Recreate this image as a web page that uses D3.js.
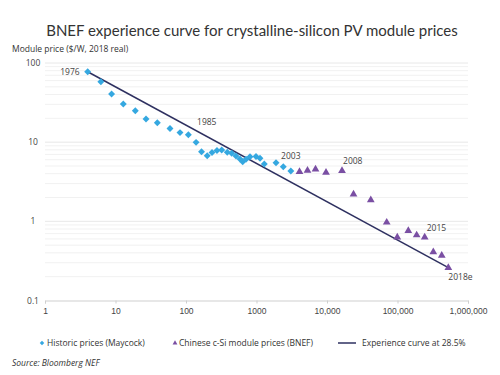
<!DOCTYPE html>
<html>
<head>
<meta charset="utf-8">
<script src="https://cdn.jsdelivr.net/npm/d3@7"></script>
<style>
  body { margin: 0; background: #fff; }
  svg { display: block; font-family: "Open Sans", sans-serif; }
</style>
</head>
<body>
<script>
// cumulative capacity (MW) and price ($/W, 2018 real)
const historicX = [4.03, 6.2, 8.8, 12.9, 19.1, 27.1, 39.2, 59.3, 82.2, 108, 139, 166, 200, 234, 275, 321, 385, 445, 512, 583, 637, 710, 809, 984, 1121, 1290, 1892, 2399, 3069];
const historicY = [77.6, 58, 40.5, 30.3, 24.9, 19.6, 17.6, 14.9, 13.2, 12.4, 9.95, 7.57, 6.72, 7.4, 7.84, 7.96, 7.44, 7.23, 6.68, 6.12, 5.66, 6.07, 6.54, 6.58, 6.25, 5.3, 5.5, 4.89, 4.32];

const chinaX = [4074, 5290, 6870, 9680, 16330, 23770, 41800, 70300, 99300, 142300, 187000, 243000, 322000, 424000, 526000];
const chinaY = [4.23, 4.38, 4.55, 4.13, 4.36, 2.2, 1.86, 0.97, 0.63, 0.76, 0.67, 0.63, 0.41, 0.37, 0.26];

const curveX = [4.03, 526000];
const curveY = [77.6, 0.26];

const yearLabels = ["1976", "1985", "2003", "2008", "2015", "2018e"];
const yearLabelX = [4.03, 197, 3069, 23200, 243000, 526000];
const yearLabelY = [77.6, 17.8, 6.68, 5.83, 0.82, 0.2];

const xTicks = [1, 10, 100, 1000, 10000, 100000, 1000000];
const yTicks = [0.1, 1, 10, 100];

const W = 500, H = 375;
const svg = d3.select("body").append("svg").attr("width", W).attr("height", H);

const x = d3.scaleLog().domain([1, 1000000]).range([45, 468]);
const y = d3.scaleLog().domain([0.1, 100]).range([300.5, 63]);

// title
svg.append("text")
  .attr("x", 252).attr("y", 36)
  .attr("text-anchor", "middle")
  .style("font-family", "Lato, sans-serif")
  .style("font-size", "15px")
  .style("fill", "#333")
  .text("BNEF experience curve for crystalline-silicon PV module prices");

svg.append("text")
  .attr("x", 12).attr("y", 52)
  .style("font-size", "8.5px")
  .style("fill", "#333")
  .text("Module price ($/W, 2018 real)");

// gridlines, major and minor
const gridVals = [];
[0.1, 1, 10].forEach(d => { for (let k = 1; k < 10; k++) gridVals.push(d * k); });
gridVals.push(100);

svg.append("g").selectAll("line")
  .data(gridVals.filter(v => v > 0.1))
  .join("line")
  .attr("x1", x(1)).attr("x2", x(1000000))
  .attr("y1", d => y(d)).attr("y2", d => y(d))
  .attr("stroke", d => yTicks.includes(d) ? "#e2e2e2" : "#eeeeee")
  .attr("stroke-width", 0.8);

// x axis
const xAxis = svg.append("g")
  .attr("transform", `translate(0,${y(0.1)})`)
  .call(d3.axisBottom(x).tickValues(xTicks).tickSize(3).tickFormat(d3.format(",")));
xAxis.select(".domain").attr("stroke", "#cfcfcf");
xAxis.selectAll(".tick line").attr("stroke", "#cfcfcf");
xAxis.selectAll("text")
  .attr("dy", "0.9em")
  .style("font-size", "8.5px")
  .style("fill", "#444");
xAxis.selectAll("text").text(d => d === 1000 ? "1000" : d3.format(",")(d));

// y axis labels
svg.append("g").selectAll("text")
  .data(yTicks)
  .join("text")
  .attr("x", 33)
  .attr("y", d => y(d) + 3)
  .attr("text-anchor", "middle")
  .style("font-size", "8.5px")
  .style("fill", "#444")
  .text(d => d === 0.1 ? "0.1" : d);

// experience curve
svg.append("path")
  .datum(curveX.map((d, i) => [d, curveY[i]]))
  .attr("fill", "none")
  .attr("stroke", "#2e3060")
  .attr("stroke-width", 1.5)
  .attr("d", d3.line().x(d => x(d[0])).y(d => y(d[1])));

// historic diamonds
svg.append("g").selectAll("path")
  .data(historicX.map((d, i) => [d, historicY[i]]))
  .join("path")
  .attr("d", d3.symbol(d3.symbolSquare, 24))
  .attr("transform", d => `translate(${x(d[0])},${y(d[1])}) rotate(45)`)
  .attr("fill", "#35a8e0");

// chinese triangles
svg.append("g").selectAll("path")
  .data(chinaX.map((d, i) => [d, chinaY[i]]))
  .join("path")
  .attr("d", d3.symbol(d3.symbolTriangle, 26))
  .attr("transform", d => `translate(${x(d[0])},${y(d[1])})`)
  .attr("fill", "#7a4fa3");

// year labels
const labelAnchor = ["end", "middle", "middle", "middle", "start", "start"];
const labelDx = [-8, 0, 0, 0, 2, 0];
svg.append("g").selectAll("text")
  .data(yearLabels)
  .join("text")
  .attr("x", (d, i) => x(yearLabelX[i]) + labelDx[i])
  .attr("y", (d, i) => y(yearLabelY[i]) + 3)
  .attr("text-anchor", (d, i) => labelAnchor[i])
  .style("font-size", "8.5px")
  .style("fill", "#444")
  .text(d => d);

// legend
const leg = svg.append("g").style("font-size", "8.5px").style("fill", "#333");
leg.append("path")
  .attr("d", d3.symbol(d3.symbolSquare, 10))
  .attr("transform", "translate(42,343) rotate(45)")
  .attr("fill", "#35a8e0");
leg.append("text").attr("x", 47).attr("y", 346).text("Historic prices (Maycock)");
leg.append("path")
  .attr("d", d3.symbol(d3.symbolTriangle, 10))
  .attr("transform", "translate(175,343)")
  .attr("fill", "#7a4fa3");
leg.append("text").attr("x", 179).attr("y", 346).text("Chinese c-Si module prices (BNEF)");
leg.append("line")
  .attr("x1", 338).attr("x2", 356).attr("y1", 343).attr("y2", 343)
  .attr("stroke", "#2e3060").attr("stroke-width", 1.5);
leg.append("text").attr("x", 362).attr("y", 346).text("Experience curve at 28.5%");

svg.append("text")
  .attr("x", 12).attr("y", 366)
  .style("font-size", "8.5px")
  .style("font-style", "italic")
  .style("fill", "#333")
  .text("Source: Bloomberg NEF");
</script>
</body>
</html>
